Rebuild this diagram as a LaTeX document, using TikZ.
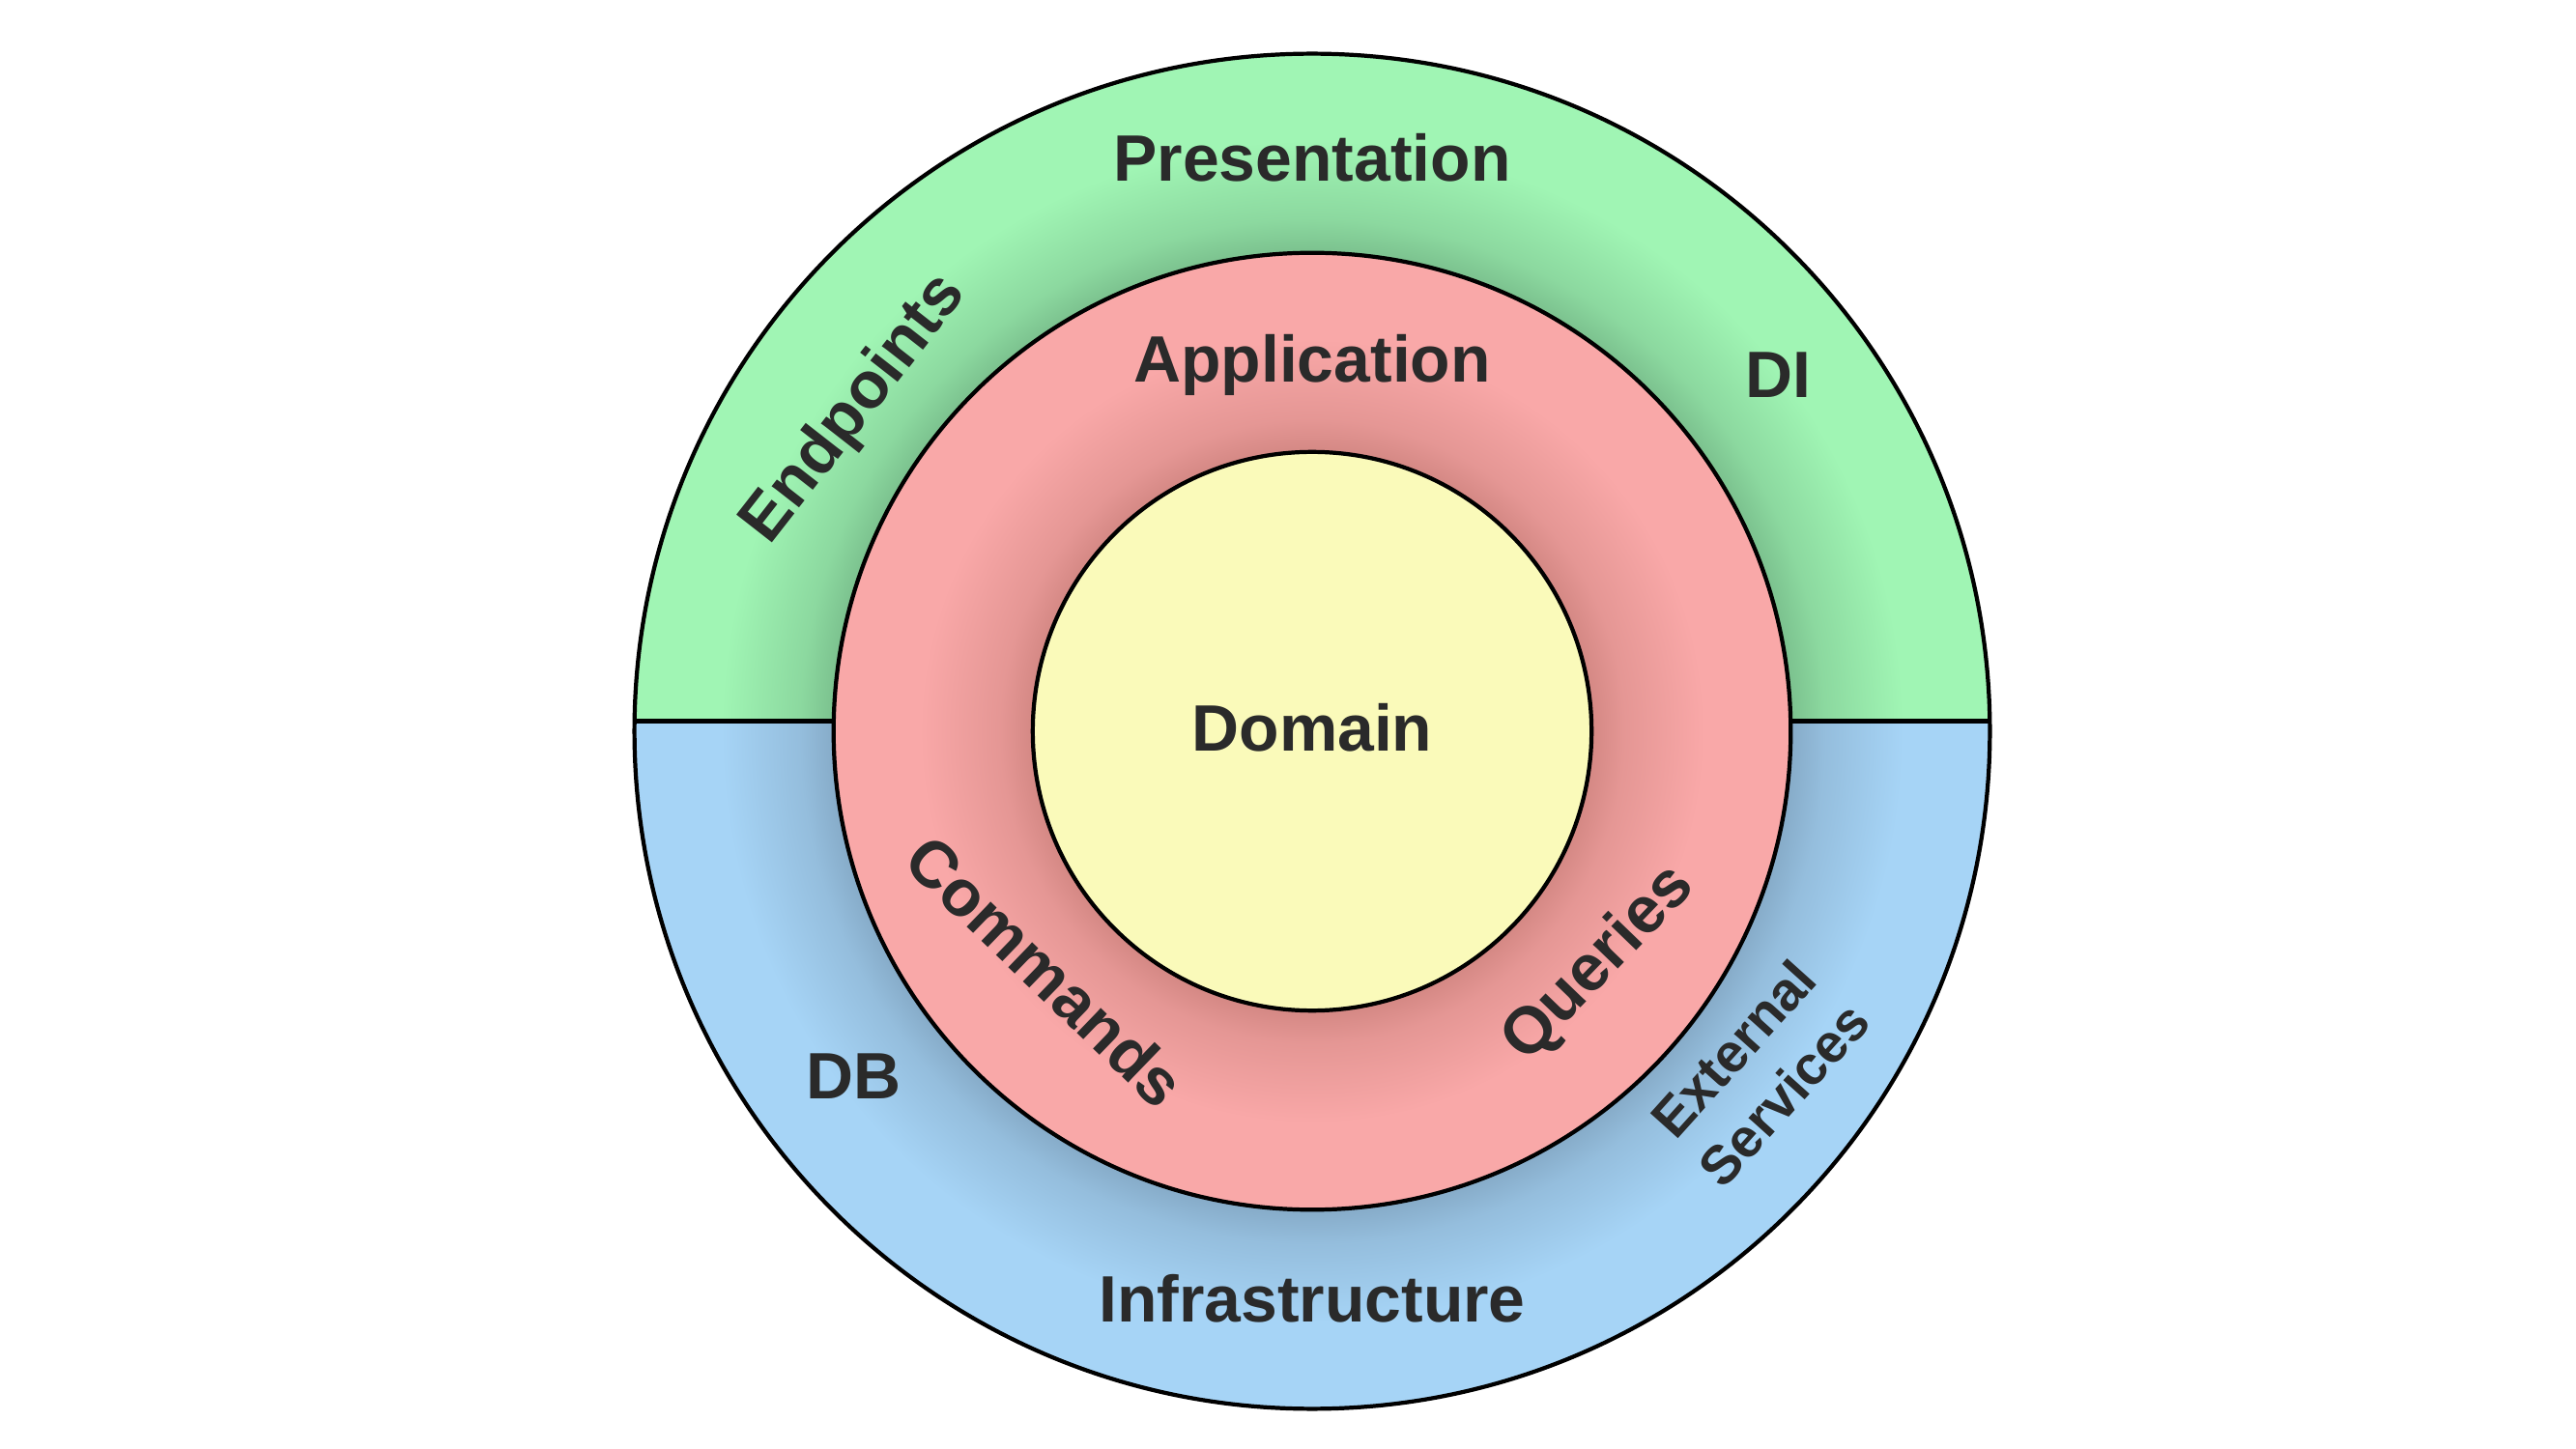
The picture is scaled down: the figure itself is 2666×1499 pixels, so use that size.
\documentclass[tikz,border=0pt]{standalone}
\usepackage{fontspec}
\setmainfont{Liberation Sans}
\definecolor{gl}{HTML}{A0F5B4}
\definecolor{gd}{HTML}{7BC18E}
\colorlet{gm}{gd!55!gl}
\definecolor{bl}{HTML}{A6D4F6}
\definecolor{bd}{HTML}{86ABC8}
\colorlet{bm}{bd!55!bl}
\definecolor{pl}{HTML}{F9A8A8}
\definecolor{pd}{HTML}{D48884}
\colorlet{pm}{pd!55!pl}
\definecolor{yl}{HTML}{FAFABA}
\definecolor{txt}{HTML}{2A2A2A}
\pgfdeclareradialshading{greenring}{\pgfpointorigin}{color(0bp)=(gd); color(17.65bp)=(gd); color(18.9bp)=(gm); color(21.8bp)=(gl); color(25bp)=(gl); color(50bp)=(gl)}
\pgfdeclareradialshading{bluering}{\pgfpointorigin}{color(0bp)=(bd); color(17.65bp)=(bd); color(18.9bp)=(bm); color(21.8bp)=(bl); color(25bp)=(bl); color(50bp)=(bl)}
\pgfdeclareradialshading{pinkring}{\pgfpointorigin}{color(0bp)=(pd); color(14.6bp)=(pd); color(16.3bp)=(pm); color(20.5bp)=(pl); color(25bp)=(pl); color(50bp)=(pl)}
\begin{document}
\begin{tikzpicture}[x=0.01cm,y=0.01cm,
  ringline/.style={draw=black, line width=1.2pt},
  lbl/.style={text=txt, font=\fontsize{19.3pt}{23pt}\selectfont\bfseries, inner sep=0pt},
  smalllbl/.style={text=txt, font=\fontsize{16pt}{20pt}\selectfont\bfseries, inner sep=0pt, align=center}]
\useasboundingbox (0,0) rectangle (2666,1499);
\fill[white] (0,0) rectangle (2666,1499);
\coordinate (C) at (1358,742);
% outer ring: green top, blue bottom
\begin{scope}
  \clip (0,752.5) rectangle (2666,1499);
  \shade[shading=greenring] (C) circle[radius=7.01cm];
\end{scope}
\begin{scope}
  \clip (0,0) rectangle (2666,752.5);
  \shade[shading=bluering] (C) circle[radius=7.01cm];
\end{scope}
\draw[ringline] (C) circle[radius=7.01cm];
% dividing lines
\coordinate (dl1) at (657,752.5);
\coordinate (dl2) at (863,752.5);
\coordinate (dr1) at (1853,752.5);
\coordinate (dr2) at (2059,752.5);
\draw[ringline] (dl1) -- (dl2);
\draw[ringline] (dr1) -- (dr2);
% application ring
\shade[shading=pinkring] (C) circle[radius=4.95cm];
\draw[ringline] (C) circle[radius=4.95cm];
% domain
\fill[yl] (C) circle[radius=2.89cm];
\draw[ringline] (C) circle[radius=2.89cm];
% labels
\node[lbl, anchor=base] (pres) at (1358,1311) {Presentation};
\node[lbl, anchor=base] (app) at (1358,1103) {Application};
\node[lbl, anchor=base] (dom) at (1358,721) {Domain};
\node[lbl, anchor=base] (infra) at (1358,131) {Infrastructure};
\node[lbl, anchor=base] (di) at (1840,1087) {DI};
\node[lbl, anchor=base] (db) at (884,362) {DB};
\node[lbl, rotate=52] (endp) at (885,1075) {Endpoints};
\node[lbl, rotate=-44] (cmd) at (1082,494) {Commands};
\node[lbl, rotate=46] (qry) at (1655,501) {Queries};
\node[smalllbl, rotate=48] (ext) at (1820,390) {External\\Services};
\end{tikzpicture}
\end{document}
